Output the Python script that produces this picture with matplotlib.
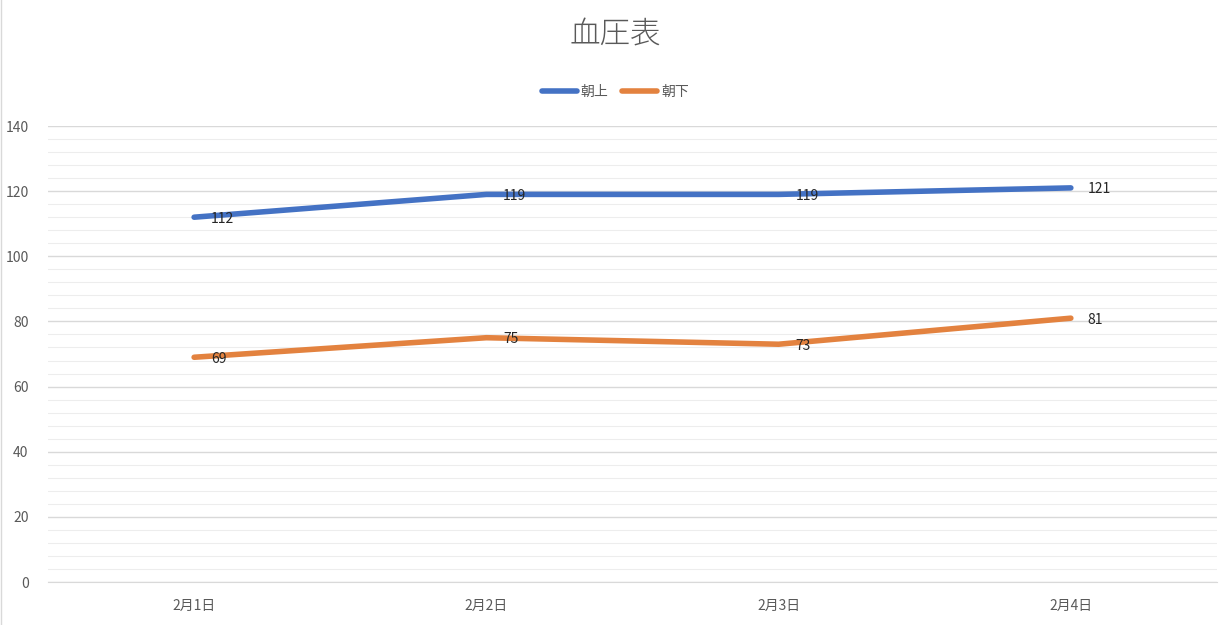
import matplotlib.pyplot as plt
from matplotlib.ticker import MultipleLocator

plt.rcParams['font.family'] = ['Noto Sans CJK JP', 'DejaVu Sans']

dates = ['2月1日', '2月2日', '2月3日', '2月4日']
morning_up = [112, 119, 119, 121]
morning_down = [69, 75, 73, 81]

fig = plt.figure(figsize=(12.31, 6.25), dpi=100)
ax = fig.add_axes([0.039, 0.0688, 0.9496, 0.7296])

x = range(len(dates))
ax.plot(x, morning_up, color='#4472C4', linewidth=4, solid_capstyle='round', label='朝上')
ax.plot(x, morning_down, color='#E3823F', linewidth=4, solid_capstyle='round', label='朝下')

for series in (morning_up, morning_down):
    for i, v in enumerate(series):
        ax.annotate(str(v), (i, v), xytext=(12, -1), textcoords='offset points',
                    ha='left', va='center', fontsize=10, color='#262626')

ax.set_xlim(-0.5, 3.5)
ax.set_ylim(0, 140)
ax.set_xticks(list(x))
ax.set_xticklabels(dates)
ax.yaxis.set_major_locator(MultipleLocator(20))
ax.yaxis.set_minor_locator(MultipleLocator(4))
ax.grid(axis='y', which='major', color='#D9D9D9', linewidth=1)
ax.grid(axis='y', which='minor', color='#EDEDED', linewidth=0.8)
ax.set_axisbelow(True)
for s in ('top', 'right', 'left'):
    ax.spines[s].set_visible(False)
ax.spines['bottom'].set_color('#D9D9D9')
ax.tick_params(axis='both', which='both', length=0, colors='#595959', labelsize=10)
ax.tick_params(axis='y', pad=14)
ax.tick_params(axis='x', pad=12)

fig.suptitle('血圧表', y=0.97, fontsize=22, color='#595959', fontweight='light')
fig.legend(loc='center', bbox_to_anchor=(0.5, 0.853), ncol=2, frameon=False,
           fontsize=10, labelcolor='#595959', handlelength=2.5, columnspacing=1.0,
           handletextpad=0.3)

fig.add_artist(plt.Line2D([0.001, 0.001], [0, 1], color='#D9D9D9', linewidth=1,
                          transform=fig.transFigure))

fig.savefig('out.png', dpi=100)
